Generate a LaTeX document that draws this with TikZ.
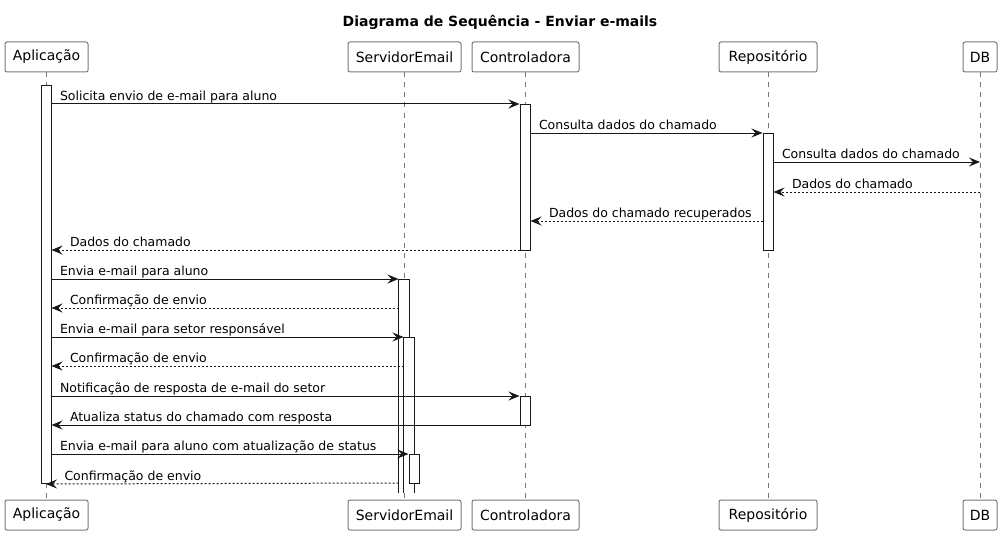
\documentclass[tikz,border=0pt]{standalone}
\usepackage{fontspec}
\setmainfont{DejaVu Sans}
\usepackage{tikz}
\usetikzlibrary{arrows.meta,positioning}
\definecolor{inkgray}{RGB}{24,24,24}
\definecolor{framegray}{RGB}{120,120,120}

\tikzset{
  actor/.style={draw=framegray, line width=1pt, rounded corners=2pt, fill=white, minimum height=30pt, inner sep=0pt, font=\fontsize{14}{16}\selectfont},
  lifeline/.style={draw=framegray, line width=0.8pt, dash pattern=on 5pt off 5pt},
  actbar/.style={draw=inkgray, line width=1pt, fill=white, minimum width=10pt, inner sep=0pt, anchor=north},
  call/.style={draw=inkgray, line width=1pt, -{Stealth[length=11pt,width=9pt,inset=4pt]}},
  reply/.style={call, dash pattern=on 2pt off 2pt},
  lblR/.style={at start, anchor=base west, inner sep=0pt, xshift=8pt, yshift=4pt, font=\fontsize{12.5}{15}\selectfont},
  lblL/.style={at end, anchor=base west, inner sep=0pt, xshift=18pt, yshift=4pt, font=\fontsize{12.5}{15}\selectfont}
}

\begin{document}
\begin{tikzpicture}[x=1pt, y=-1pt]
    \useasboundingbox[fill=white] (0,0) rectangle (1002,535);

    % Title
    \node[font=\fontsize{14}{16}\selectfont\bfseries] (title) at (500,22) {Diagrama de Sequência - Enviar e-mails};

    % Participants (top)
    \node[actor, minimum width=83pt] (app) at (46.5,57) {Aplicação};
    \node[actor, minimum width=113pt] (srv) at (404.5,57) {ServidorEmail};
    \node[actor, minimum width=107pt] (ctl) at (525.5,57) {Controladora};
    \node[actor, minimum width=98pt] (rep) at (768,57) {Repositório};
    \node[actor, minimum width=34pt] (db) at (980,57) {DB};

    % Participants (bottom)
    \node[actor, minimum width=83pt] (appB) at (46.5,515) {Aplicação};
    \node[actor, minimum width=113pt] (srvB) at (404.5,515) {ServidorEmail};
    \node[actor, minimum width=107pt] (ctlB) at (525.5,515) {Controladora};
    \node[actor, minimum width=98pt] (repB) at (768,515) {Repositório};
    \node[actor, minimum width=34pt] (dbB) at (980,515) {DB};

    % Lifelines
    \draw[lifeline] (app.south) -- (appB.north);
    \draw[lifeline] (srv.south) -- (srvB.north);
    \draw[lifeline] (ctl.south) -- (ctlB.north);
    \draw[lifeline] (rep.south) -- (repB.north);
    \draw[lifeline] (db.south) -- (dbB.north);

    % Activation bars
    \node[actbar, minimum height=398pt] (appAct) at (46,85) {};
    \node[actbar, minimum height=146pt] (ctlAct1) at (525,104) {};
    \node[actbar, minimum height=117pt] (repAct) at (768,133) {};
    \node[actbar, minimum height=29pt] (ctlAct2) at (525,396) {};
    \node[actbar, draw=none, minimum height=213pt] (srvAct1) at (404,279) {};
    \draw[inkgray, line width=1pt] (srvAct1.south west) |- (srvAct1.north east) -- (srvAct1.south east);
    \node[actbar, draw=none, minimum height=155pt] (srvAct2) at (409,337) {};
    \draw[inkgray, line width=1pt] (srvAct2.south west) |- (srvAct2.north east) -- (srvAct2.south east);
    \node[actbar, minimum height=29pt] (srvAct3) at (414,454) {};

    % Messages
    \draw[call] (appAct.east |- 0,104) -- (ctlAct1.west |- 0,104) node[lblR] {Solicita envio de e-mail para aluno};
    \draw[call] (ctlAct1.east |- 0,133) -- (repAct.west |- 0,133) node[lblR] {Consulta dados do chamado};
    \draw[call] (repAct.east |- 0,162) -- (db.south |- 0,162) node[lblR] {Consulta dados do chamado};
    \draw[reply] (db.south |- 0,192) -- (repAct.east |- 0,192) node[lblL] {Dados do chamado};
    \draw[reply] (repAct.west |- 0,221) -- (ctlAct1.east |- 0,221) node[lblL] {Dados do chamado recuperados};
    \draw[reply] (ctlAct1.west |- 0,250) -- (appAct.east |- 0,250) node[lblL] {Dados do chamado};
    \draw[call] (appAct.east |- 0,279) -- (srvAct1.west |- 0,279) node[lblR] {Envia e-mail para aluno};
    \draw[reply] (srvAct1.west |- 0,308) -- (appAct.east |- 0,308) node[lblL] {Confirmação de envio};
    \draw[call] (appAct.east |- 0,337) -- (srvAct2.west |- 0,337) node[lblR] {Envia e-mail para setor responsável};
    \draw[reply] (srvAct2.west |- 0,366) -- (appAct.east |- 0,366) node[lblL] {Confirmação de envio};
    \draw[call] (appAct.east |- 0,396) -- (ctlAct2.west |- 0,396) node[lblR] {Notificação de resposta de e-mail do setor};
    \draw[call] (ctlAct2.west |- 0,425) -- (appAct.east |- 0,425) node[lblL] {Atualiza status do chamado com resposta};
    \draw[call] (appAct.east |- 0,454) -- (srvAct3.west |- 0,454) node[lblR] {Envia e-mail para aluno com atualização de status};
    \draw[reply] (srvAct1.west |- 0,483) -- (appAct.south) node[lblL] {Confirmação de envio};
\end{tikzpicture}
\end{document}
